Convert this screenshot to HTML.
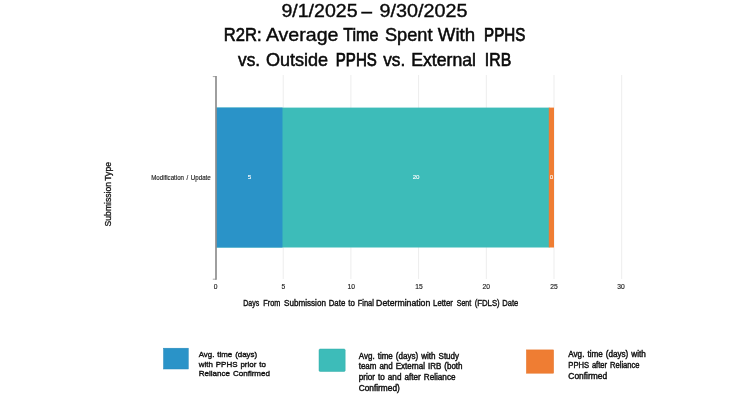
<!DOCTYPE html>
<html lang="en">
<head>
<meta charset="utf-8">
<title>R2R: Average Time Spent With PPHS vs. Outside PPHS vs. External IRB</title>
<style>
html,body{margin:0;padding:0;background:#fff;}
body{width:750px;height:400px;overflow:hidden;}
svg{display:block;}
text{font-family:"Liberation Sans","DejaVu Sans",sans-serif;}
.title{font-size:17.9px;fill:#0a0a0a;stroke:#0a0a0a;stroke-width:0.5px;}
.tick{font-size:6.7px;fill:#222;stroke:#222;stroke-width:0.15px;}
.axis{font-size:8.4px;fill:#111;stroke:#111;stroke-width:0.38px;}
.val{font-size:6.2px;fill:#fff;stroke:#fff;stroke-width:0.1px;}
.lg1{font-size:8.1px;fill:#111;stroke:#111;stroke-width:0.38px;word-spacing:0.7px;}
.lg2{font-size:8.4px;fill:#111;stroke:#111;stroke-width:0.42px;word-spacing:0.8px;}
.lg3{font-size:8.4px;fill:#111;stroke:#111;stroke-width:0.42px;word-spacing:0.8px;}
</style>
</head>
<body>
<svg width="750" height="400" viewBox="0 0 750 400">
<rect x="0" y="0" width="750" height="400" fill="#ffffff"/>

<!-- title -->
<g class="title">
<text style="stroke-width:0.38px" x="281.4" y="16.9" textLength="76.2" lengthAdjust="spacingAndGlyphs">9/1/2025</text>
<text style="stroke-width:0.43px" x="361.4" y="16.9" textLength="10.5" lengthAdjust="spacingAndGlyphs">–</text>
<text style="stroke-width:0.37px" x="379.6" y="16.9" textLength="87.9" lengthAdjust="spacingAndGlyphs">9/30/2025</text>
</g>
<g class="title">
<text style="stroke-width:0.61px" x="223.8" y="41.1" textLength="37.8" lengthAdjust="spacingAndGlyphs">R2R:</text>
<text style="stroke-width:0.38px" x="265.9" y="41.1" textLength="72.5" lengthAdjust="spacingAndGlyphs">Average</text>
<text style="stroke-width:0.66px" x="343.3" y="41.1" textLength="35.0" lengthAdjust="spacingAndGlyphs">Time</text>
<text style="stroke-width:0.47px" x="384.9" y="41.1" textLength="47.6" lengthAdjust="spacingAndGlyphs">Spent</text>
<text style="stroke-width:0.44px" x="437.8" y="41.1" textLength="37.4" lengthAdjust="spacingAndGlyphs">With</text>
<text style="stroke-width:0.75px" x="484.1" y="41.1" textLength="41.2" lengthAdjust="spacingAndGlyphs">PPHS</text>
</g>
<g class="title">
<text style="stroke-width:0.55px" x="238.1" y="65.5" textLength="22.0" lengthAdjust="spacingAndGlyphs">vs.</text>
<text style="stroke-width:0.49px" x="265.9" y="65.5" textLength="62.3" lengthAdjust="spacingAndGlyphs">Outside</text>
<text style="stroke-width:0.75px" x="335.8" y="65.5" textLength="41.0" lengthAdjust="spacingAndGlyphs">PPHS</text>
<text style="stroke-width:0.55px" x="383.2" y="65.5" textLength="22.0" lengthAdjust="spacingAndGlyphs">vs.</text>
<text style="stroke-width:0.52px" x="411.2" y="65.5" textLength="64.8" lengthAdjust="spacingAndGlyphs">External</text>
<text style="stroke-width:0.68px" x="484.8" y="65.5" textLength="26.4" lengthAdjust="spacingAndGlyphs">IRB</text>
</g>

<!-- gridlines -->
<g stroke="#ededed" stroke-width="1">
<line x1="283.2" y1="75" x2="283.2" y2="279"/>
<line x1="350.9" y1="75" x2="350.9" y2="279"/>
<line x1="418.6" y1="75" x2="418.6" y2="279"/>
<line x1="486.3" y1="75" x2="486.3" y2="279"/>
<line x1="554" y1="75" x2="554" y2="279"/>
<line x1="621.7" y1="75" x2="621.7" y2="279"/>
</g>

<!-- bars -->
<rect x="216" y="107.6" width="333.5" height="139.9" fill="#3dbcb9"/>
<rect x="216" y="107.6" width="66.5" height="139.9" fill="#2a93c8"/>
<rect x="548.8" y="107.6" width="5.2" height="139.9" fill="#ef7d33"/>

<!-- y axis -->
<path d="M212.8 76.6 H216 M212.8 279.2 H216" fill="none" stroke="#a8a8a8" stroke-width="1"/>
<path d="M216 76.1 V279.7" fill="none" stroke="#8e8e8e" stroke-width="1.7"/>

<!-- value labels -->
<text class="val" x="249.6" y="179.4" text-anchor="middle">5</text>
<text class="val" x="416.1" y="179.4" text-anchor="middle">20</text>
<text class="val" x="551.4" y="179.3" text-anchor="middle">0</text>

<!-- category label -->
<text class="tick" style="word-spacing:0.9px" x="151.2" y="180" textLength="59.5" lengthAdjust="spacingAndGlyphs">Modification / Update</text>

<!-- y axis title -->
<text class="axis" style="word-spacing:-0.9px;stroke-width:0.3px" transform="translate(110.6 226.4) rotate(-90)" textLength="64.4" lengthAdjust="spacingAndGlyphs">Submission Type</text>

<!-- x ticks -->
<g class="tick" text-anchor="middle">
<text x="215.5" y="288.9">0</text>
<text x="283.4" y="288.9">5</text>
<text x="351.2" y="288.9">10</text>
<text x="418.9" y="288.9">15</text>
<text x="486.3" y="288.9">20</text>
<text x="553.9" y="288.9">25</text>
<text x="620.9" y="288.9">30</text>
</g>

<!-- x axis title -->
<g class="axis">
<text x="243.3" y="305.8" textLength="16.0" lengthAdjust="spacingAndGlyphs">Days</text>
<text x="263.3" y="305.8" textLength="17.0" lengthAdjust="spacingAndGlyphs">From</text>
<text x="284.1" y="305.8" textLength="41.8" lengthAdjust="spacingAndGlyphs">Submission</text>
<text x="328.7" y="305.8" textLength="16.6" lengthAdjust="spacingAndGlyphs">Date</text>
<text x="348.3" y="305.8" textLength="6.6" lengthAdjust="spacingAndGlyphs">to</text>
<text x="357.7" y="305.8" textLength="16.2" lengthAdjust="spacingAndGlyphs">Final</text>
<text x="376.1" y="305.8" textLength="54.2" lengthAdjust="spacingAndGlyphs">Determination</text>
<text x="433.1" y="305.8" textLength="19.8" lengthAdjust="spacingAndGlyphs">Letter</text>
<text x="456.7" y="305.8" textLength="14.6" lengthAdjust="spacingAndGlyphs">Sent</text>
<text x="474.7" y="305.8" textLength="25.0" lengthAdjust="spacingAndGlyphs">(FDLS)</text>
<text x="502.3" y="305.8" textLength="16.0" lengthAdjust="spacingAndGlyphs">Date</text>
</g>

<!-- legend -->
<rect x="163.5" y="348.2" width="24.8" height="20.8" fill="#2a93c8" stroke="#2487bb" stroke-width="0.5"/>
<text class="lg1" x="198.7" y="356.8" textLength="58.5" lengthAdjust="spacingAndGlyphs">Avg. time (days)</text>
<text class="lg1" x="198.7" y="366.6" textLength="67.2" lengthAdjust="spacingAndGlyphs">with PPHS prior to</text>
<text class="lg1" x="198.7" y="376.3" textLength="71.3" lengthAdjust="spacingAndGlyphs">Reliance Confirmed</text>

<rect x="319" y="349" width="26.2" height="22.5" rx="1.2" fill="#3dbcb9" stroke="#36aeab" stroke-width="0.5"/>
<text class="lg2" x="358.7" y="358.6" textLength="100.4" lengthAdjust="spacingAndGlyphs">Avg. time (days) with Study</text>
<text class="lg2" x="358.7" y="369.4" textLength="103.8" lengthAdjust="spacingAndGlyphs">team and External IRB (both</text>
<text class="lg2" x="358.7" y="380.2" textLength="96.8" lengthAdjust="spacingAndGlyphs">prior to and after Reliance</text>
<text class="lg2" x="358.7" y="390.9" textLength="41.1" lengthAdjust="spacingAndGlyphs">Confirmed)</text>

<rect x="526.4" y="349.9" width="27.2" height="23.3" fill="#ef7d33" stroke="#e67226" stroke-width="0.5"/>
<text class="lg3" x="568.3" y="357.3" textLength="77.5" lengthAdjust="spacingAndGlyphs">Avg. time (days) with</text>
<text class="lg3" x="568.3" y="368.3" textLength="71.3" lengthAdjust="spacingAndGlyphs">PPHS after Reliance</text>
<text class="lg3" x="568.3" y="379.4" textLength="38.9" lengthAdjust="spacingAndGlyphs">Confirmed</text>
</svg>
</body>
</html>
